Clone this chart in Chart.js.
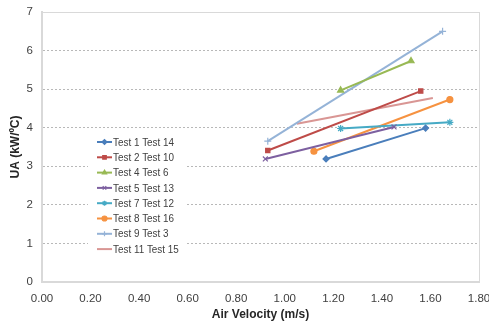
<!DOCTYPE html>
<html>
<head>
<meta charset="utf-8">
<script src="https://cdn.jsdelivr.net/npm/chart.js@4.4.0/dist/chart.umd.min.js"></script>
<style>
  html, body { margin: 0; padding: 0; background: #fff; }
  #wrap { width: 489px; height: 326px; }
</style>
</head>
<body>
<div id="wrap"><canvas id="uaChart" width="489" height="326"></canvas></div>
<script>
// series names (legend order)
const seriesNames = ['Test 1 Test 14', 'Test 2 Test 10', 'Test 4 Test 6', 'Test 5 Test 13',
    'Test 7 Test 12', 'Test 8 Test 16', 'Test 9 Test 3', 'Test 11 Test 15'];
// air velocity (m/s) for each series, two points each
const velocities = [
    [1.17, 1.58],
    [0.93, 1.56],
    [1.23, 1.52],
    [0.92, 1.45],
    [1.23, 1.68],
    [1.12, 1.68],
    [0.93, 1.65],
    [1.05, 1.61]
];
// UA (kW/ºC)
const uaValues = [
    [3.19, 3.99],
    [3.41, 4.95],
    [4.97, 5.73],
    [3.19, 4.02],
    [3.98, 4.14],
    [3.39, 4.73],
    [3.65, 6.50],
    [4.10, 4.77]
];
const colors = ['#4A7EBB', '#BE4B48', '#98B954', '#7D60A0', '#46AAC5', '#F69240', '#95B3D7', '#D99694'];
const markers = ['rectRot', 'rect', 'triangle', 'crossRot', 'star', 'circle', 'cross', false];
const markerSizes = [3, 3, 3.5, 3.5, 3.5, 3, 3.5, 0];

const xTicks = [0, 0.2, 0.4, 0.6, 0.8, 1.0, 1.2, 1.4, 1.6, 1.8];
const yTicks = [0, 1, 2, 3, 4, 5, 6, 7];

const FONT = '"Liberation Sans", Arial, sans-serif';

const datasets = seriesNames.map((name, i) => ({
    label: name,
    data: velocities[i].map((v, j) => ({ x: v, y: uaValues[i][j] })),
    showLine: true,
    borderColor: colors[i],
    backgroundColor: colors[i],
    borderWidth: 2,
    pointStyle: markers[i],
    pointRadius: markerSizes[i],
    pointBorderWidth: 1.2
}));

// Excel-style legend box floating inside the plot
const boxLegend = {
    id: 'boxLegend',
    beforeDatasetsDraw(chart) {
        const ctx = chart.ctx;
        const left = 96, top = 134, rowH = 15.3;
        ctx.save();
        ctx.fillStyle = '#ffffff';
        ctx.fillRect(88, top, 99, rowH * seriesNames.length + 2);
        ctx.textBaseline = 'middle';
        seriesNames.forEach((name, i) => {
            const y = top + 8 + i * rowH;
            ctx.strokeStyle = colors[i];
            ctx.lineWidth = 2;
            ctx.beginPath();
            ctx.moveTo(left + 1, y);
            ctx.lineTo(left + 16, y);
            ctx.stroke();
            if (markers[i]) {
                ctx.fillStyle = colors[i];
                ctx.lineWidth = 1.2;
                Chart.helpers.drawPoint(ctx, { pointStyle: markers[i], radius: 2.5, rotation: 0, borderWidth: 1.2 }, left + 8.5, y);
            }
            // narrow, Calibri-like text
            ctx.save();
            ctx.translate(left + 17, y + 0.5);
            ctx.scale(0.86, 1);
            ctx.font = '11.5px ' + FONT;
            ctx.fillStyle = '#404040';
            ctx.fillText(name, 0, 0);
            ctx.restore();
        });
        ctx.restore();
    }
};

new Chart(document.getElementById('uaChart').getContext('2d'), {
    type: 'scatter',
    data: { datasets },
    options: {
        responsive: false,
        animation: false,
        layout: { padding: { top: 12, right: 10, left: 8, bottom: 4 } },
        plugins: {
            legend: { display: false },
            tooltip: { enabled: false }
        },
        scales: {
            x: {
                min: 0, max: 1.8,
                afterBuildTicks: axis => { axis.ticks = xTicks.map(v => ({ value: v })); },
                afterFit: axis => { axis.height = 40; axis.paddingLeft = 0; axis.paddingRight = 0; },
                border: { display: true, color: '#d9d9d9', width: 2 },
                grid: { display: false, drawTicks: false },
                ticks: {
                    padding: 10,
                    color: '#404040',
                    font: { size: 11.5, family: FONT },
                    maxRotation: 0,
                    callback: v => Number(v).toFixed(2)
                },
                title: {
                    display: true,
                    text: 'Air Velocity (m/s)',
                    color: '#262626',
                    font: { size: 12, weight: 'bold', family: FONT },
                    padding: { top: 2, bottom: 0 }
                }
            },
            y: {
                min: 0, max: 7,
                afterBuildTicks: axis => { axis.ticks = yTicks.map(v => ({ value: v })); },
                afterFit: axis => { axis.width = 34; axis.paddingTop = 0; axis.paddingBottom = 0; },
                border: { display: true, color: '#d9d9d9', width: 2, dash: [2, 2] },
                grid: {
                    drawTicks: false,
                    color: ctx => (ctx.tick && (ctx.tick.value === 0 || ctx.tick.value === 7)) ? 'rgba(0,0,0,0)' : '#a6a6a6',
                    lineWidth: 0.8
                },
                ticks: {
                    padding: 9,
                    color: '#404040',
                    font: { size: 11.5, family: FONT }
                },
                title: {
                    display: true,
                    text: 'UA (kW/ºC)',
                    color: '#262626',
                    font: { size: 12, weight: 'bold', family: FONT },
                    padding: { top: 0, bottom: 2 }
                }
            }
        }
    },
    plugins: [boxLegend, {
        id: 'frame',
        afterDatasetsDraw(chart) {
            const a = chart.chartArea, ctx = chart.ctx;
            ctx.save();
            ctx.strokeStyle = '#d9d9d9';
            ctx.lineWidth = 1;
            ctx.strokeRect(Math.round(a.left) + 0.5, Math.round(a.top) + 0.5,
                Math.round(a.right - a.left), Math.round(a.bottom - a.top));
            ctx.restore();
        }
    }]
});
</script>
</body>
</html>
